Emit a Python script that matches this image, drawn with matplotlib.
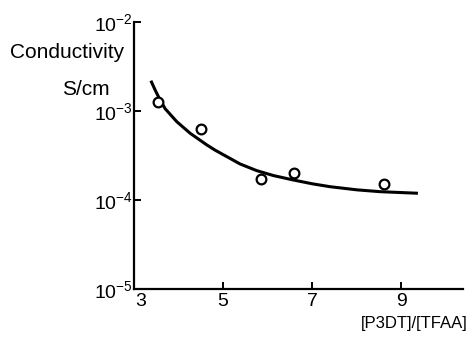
import numpy as np
import matplotlib
matplotlib.use('Agg')
import matplotlib.pyplot as plt
import matplotlib.transforms as mtransforms

plt.rcParams['font.family'] = ['Liberation Sans', 'DejaVu Sans']
plt.rcParams['mathtext.default'] = 'regular'

# measured points (open circles)
ratio_pts = [3.53, 4.51, 5.84, 6.60, 8.61]
cond_pts = [1.25e-3, 6.2e-4, 1.71e-4, 2.0e-4, 1.5e-4]

# fitted curve
ratio_fit = [3.38, 3.48, 3.58, 3.70, 3.96, 4.26, 4.63, 4.82, 5.38, 5.75,
             6.13, 6.57, 7.00, 7.40, 8.00, 8.52, 9.37]
cond_fit = [2.19e-3, 1.70e-3, 1.35e-3, 1.06e-3, 7.59e-4, 5.62e-4, 4.17e-4, 3.63e-4, 2.54e-4, 2.14e-4,
            1.88e-4, 1.68e-4, 1.52e-4, 1.41e-4, 1.30e-4, 1.24e-4, 1.19e-4]

xticks = [3, 5, 7, 9]
yticks = [1e-5, 1e-4, 1e-3, 1e-2]
ytick_labels = ['$10^{-5}$', '$10^{-4}$', '$10^{-3}$', '$10^{-2}$']

fig = plt.figure(figsize=(4.7, 3.38), dpi=100)
ax = fig.add_axes([0.285, 0.145, 0.70, 0.79])

ax.plot(ratio_fit, cond_fit, color='black', lw=2.2, solid_capstyle='butt')
ax.plot(ratio_pts, cond_pts, 'o', ms=7, mfc='white', mec='black', mew=1.6)

ax.set_yscale('log')
ax.set_xlim(3, 10.38)
ax.set_ylim(1e-5, 1e-2)
ax.set_xticks(xticks)
ax.set_xticklabels([str(t) for t in xticks])
ax.set_yticks(yticks)
ax.set_yticklabels(ytick_labels)
ax.minorticks_off()

for s in ['top', 'right']:
    ax.spines[s].set_visible(False)
for s in ['left', 'bottom']:
    ax.spines[s].set_linewidth(1.6)

ax.tick_params(axis='both', direction='in', length=5, width=1.4, labelsize=14, pad=1)
ax.tick_params(axis='x', pad=3)

# shift the "3" slightly right like in the original
lbl = ax.get_xticklabels()[0]
lbl.set_transform(lbl.get_transform() + mtransforms.ScaledTranslation(7/100, 0, fig.dpi_scale_trans))

fig.text(0.021, 0.828, 'Conductivity', fontsize=15, ha='left', va='baseline')
fig.text(0.132, 0.719, 'S/cm', fontsize=15, ha='left', va='baseline')
fig.text(0.994, 0.044, '[P3DT]/[TFAA]', fontsize=12, ha='right', va='center')

fig.savefig('out.png', dpi=100, facecolor='white')
